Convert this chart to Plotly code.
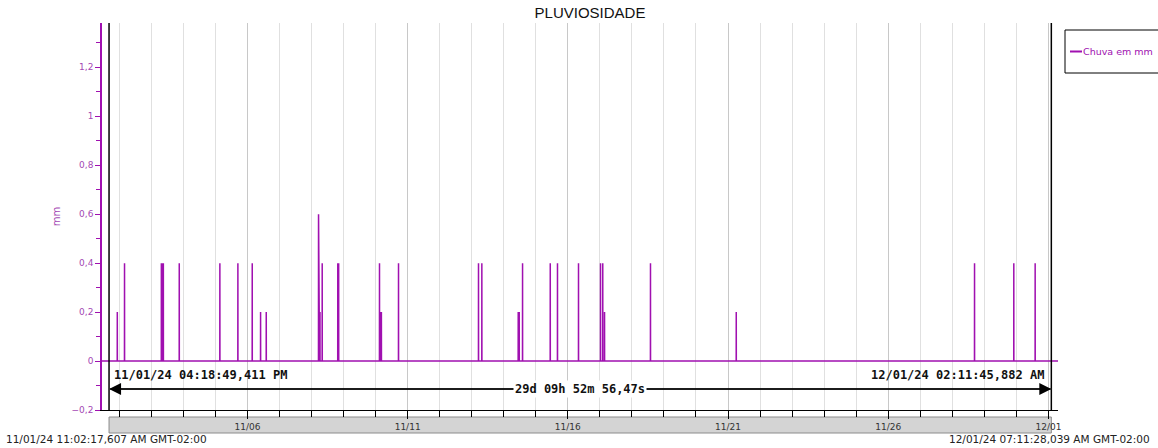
import plotly.graph_objects as go
from datetime import datetime, timedelta

# ---- data ----
range_start = "2024-11-01 11:02:17.607"
range_end = "2024-12-01 07:11:28.039"
cursor_left = "2024-11-01 16:18:49.411"
cursor_right = "2024-12-01 02:11:45.882"

event_times = [
    "2024-11-01 22:30", "2024-11-02 03:55",
    "2024-11-03 07:30", "2024-11-03 08:15", "2024-11-03 09:00", "2024-11-03 20:55",
    "2024-11-05 03:20", "2024-11-05 16:50",
    "2024-11-06 03:35", "2024-11-06 09:50", "2024-11-06 14:05",
    "2024-11-08 05:15", "2024-11-08 05:45", "2024-11-08 06:20", "2024-11-08 08:00",
    "2024-11-08 19:40", "2024-11-08 20:20",
    "2024-11-10 02:55", "2024-11-10 03:45", "2024-11-10 04:20", "2024-11-10 17:10",
    "2024-11-13 05:05", "2024-11-13 07:35",
    "2024-11-14 10:50", "2024-11-14 11:35", "2024-11-14 14:05",
    "2024-11-15 10:50", "2024-11-15 16:15",
    "2024-11-16 08:00",
    "2024-11-17 00:30", "2024-11-17 02:10", "2024-11-17 03:30",
    "2024-11-18 13:55",
    "2024-11-21 06:10",
    "2024-11-28 16:40", "2024-11-29 22:05", "2024-11-30 14:05",
]
event_values = [
    0.2, 0.4,
    0.4, 0.4, 0.4, 0.4,
    0.4, 0.4,
    0.4, 0.2, 0.2,
    0.6, 0.2, 0.2, 0.4,
    0.4, 0.4,
    0.4, 0.2, 0.2, 0.4,
    0.4, 0.4,
    0.2, 0.2, 0.4,
    0.4, 0.4,
    0.4,
    0.4, 0.4, 0.2,
    0.4,
    0.2,
    0.4, 0.4, 0.4,
]

series_name = "Chuva em mm"
title_text = "PLUVIOSIDADE"
y_title = "mm"
tz_suffix = " GMT-02:00"

# ---- build series (zero baseline between rain readings) ----
def parse(s):
    for f in ("%Y-%m-%d %H:%M:%S.%f", "%Y-%m-%d %H:%M"):
        try:
            return datetime.strptime(s, f)
        except ValueError:
            pass

t0, t1 = parse(range_start), parse(range_end)
c0, c1 = parse(cursor_left), parse(cursor_right)
eps = timedelta(minutes=3)
xs, ys = [t0], [0]
for t, v in zip(event_times, event_values):
    tt = parse(t)
    xs += [tt - eps, tt, tt + eps]
    ys += [0, v, 0]
xs.append(t1)
ys.append(0)

PURPLE = "#a010b0"
LABEL_PURPLE = "#a448b4"
SANS = "DejaVu Sans, Verdana, sans-serif"

def fmt_dt(d):
    return d.strftime("%m/%d/%y %I:%M:%S,") + f"{d.microsecond // 1000:03d}" + d.strftime(" %p")

delta = c1 - c0
secs = delta.total_seconds()
dd = int(secs // 86400); rem = secs - dd * 86400
hh = int(rem // 3600); rem -= hh * 3600
mm = int(rem // 60); rem -= mm * 60
dur_text = f"{dd}d {hh:02d}h {mm:02d}m {rem:05.2f}s".replace(".", ",")

# plot-area geometry (pixels) for placing decorations in paper coords
L, R, T, B = 102, 1058, 23, 410
def px(x):
    return (x - L) / (R - L)
def py(y):
    return (B - y) / (B - T)

fig = go.Figure()
fig.add_trace(go.Scatter(x=xs, y=ys, mode="lines", name=series_name,
                         showlegend=False, line=dict(color=PURPLE, width=1.5)))

DAY = 86400000
fig.update_layout(
    width=1158, height=448,
    margin=dict(l=L, r=1158 - R, t=T, b=448 - B),
    plot_bgcolor="white", paper_bgcolor="white",
    separators=", ",
    font=dict(family=SANS, size=9, color="#222"),
    title=dict(text=title_text, x=590 / 1158, xref="container", xanchor="center",
               y=1 - 13 / 448, yref="container", yanchor="middle",
               font=dict(family="Arial, Liberation Sans", size=15, color="#111")),
    xaxis=dict(type="date", range=[t0, t1], tick0="2024-11-01", dtick=5 * DAY,
               tickformat="%m/%d", ticks="outside", ticklen=8, tickcolor="#000",
               showline=True, linecolor="#000", linewidth=1,
               showgrid=True, gridcolor="#c8c8c8", zeroline=False,
               tickfont=dict(family=SANS, size=9, color="#333"),
               minor=dict(tick0="2024-11-01", dtick=DAY, ticks="outside", ticklen=6,
                          tickcolor="#000", showgrid=True, gridcolor="#e0e0e0")),
    yaxis=dict(range=[-0.2, 1.381], tick0=0, dtick=0.2, ticks="outside", ticklen=5,
               tickcolor=PURPLE, showline=True, linecolor=PURPLE, linewidth=1.5,
               showgrid=False, zeroline=False,
               tickfont=dict(family=SANS, size=9, color=LABEL_PURPLE),
               title=dict(text=y_title, standoff=9,
                          font=dict(family=SANS, size=10, color=LABEL_PURPLE)),
               minor=dict(dtick=0.1, ticks="outside", ticklen=4, tickcolor=PURPLE)),
)

# legend (frame, sample line and label)
fig.add_shape(type="rect", xref="paper", yref="paper",
              x0=px(1065), x1=px(1170), y0=py(73), y1=py(30),
              line=dict(color="#000", width=1), fillcolor="white")
fig.add_shape(type="line", xref="paper", yref="paper",
              x0=px(1070), x1=px(1082), y0=py(51.5), y1=py(51.5),
              line=dict(color=PURPLE, width=2))
fig.add_annotation(xref="paper", yref="paper", x=px(1082), y=py(51.5),
                   text=series_name, showarrow=False, xanchor="left", yanchor="middle",
                   borderpad=0, font=dict(family=SANS, size=9.5, color=PURPLE))

# scrollbar-like bar between cursors
fig.add_shape(type="rect", xref="x", yref="paper", x0=c0, x1=c1,
              y0=py(433), y1=py(417), layer="below",
              line=dict(color="#8c8c8c", width=1), fillcolor="#d4d4d4")

# cursors
for c in (c0, c1):
    fig.add_shape(type="line", xref="x", yref="paper", x0=c, x1=c, y0=0, y1=1,
                  line=dict(color="#000", width=1.5))

arrow_y = -0.114
mid = c0 + delta / 2
fig.add_shape(type="line", xref="x", yref="y", x0=c0, x1=c1, y0=arrow_y, y1=arrow_y,
              line=dict(color="#404040", width=1.5))
for c in (c0, c1):
    fig.add_annotation(x=c, y=arrow_y, ax=mid, ay=arrow_y, axref="x", ayref="y",
                       text="", showarrow=True, arrowhead=2, arrowsize=1.6,
                       arrowwidth=1.5, arrowcolor="#000")

mono = dict(family="DejaVu Sans Mono", size=12, color="#111", weight="bold")
fig.add_annotation(x=c0, y=-0.057, text=fmt_dt(c0), showarrow=False,
                   xanchor="left", xshift=3, yanchor="middle", font=mono)
fig.add_annotation(x=c1, y=-0.057, text=fmt_dt(c1), showarrow=False,
                   xanchor="right", xshift=-5, yanchor="middle", font=mono)
fig.add_annotation(x=mid, y=arrow_y, text=dur_text, showarrow=False,
                   xanchor="center", yanchor="middle", bgcolor="white", font=mono)

corner_font = dict(family=SANS, size=10.5, color="#222")
fig.add_annotation(xref="paper", yref="paper", x=px(4), y=py(439),
                   text=fmt_dt(t0) + tz_suffix, showarrow=False,
                   xanchor="left", yanchor="middle", font=corner_font)
fig.add_annotation(xref="paper", yref="paper", x=px(1152), y=py(439),
                   text=fmt_dt(t1) + tz_suffix, showarrow=False,
                   xanchor="right", yanchor="middle", font=corner_font)

fig.write_html("out.html", config={"displayModeBar": False},
               post_script="document.body.style.margin='0';document.body.style.overflow='hidden';")
